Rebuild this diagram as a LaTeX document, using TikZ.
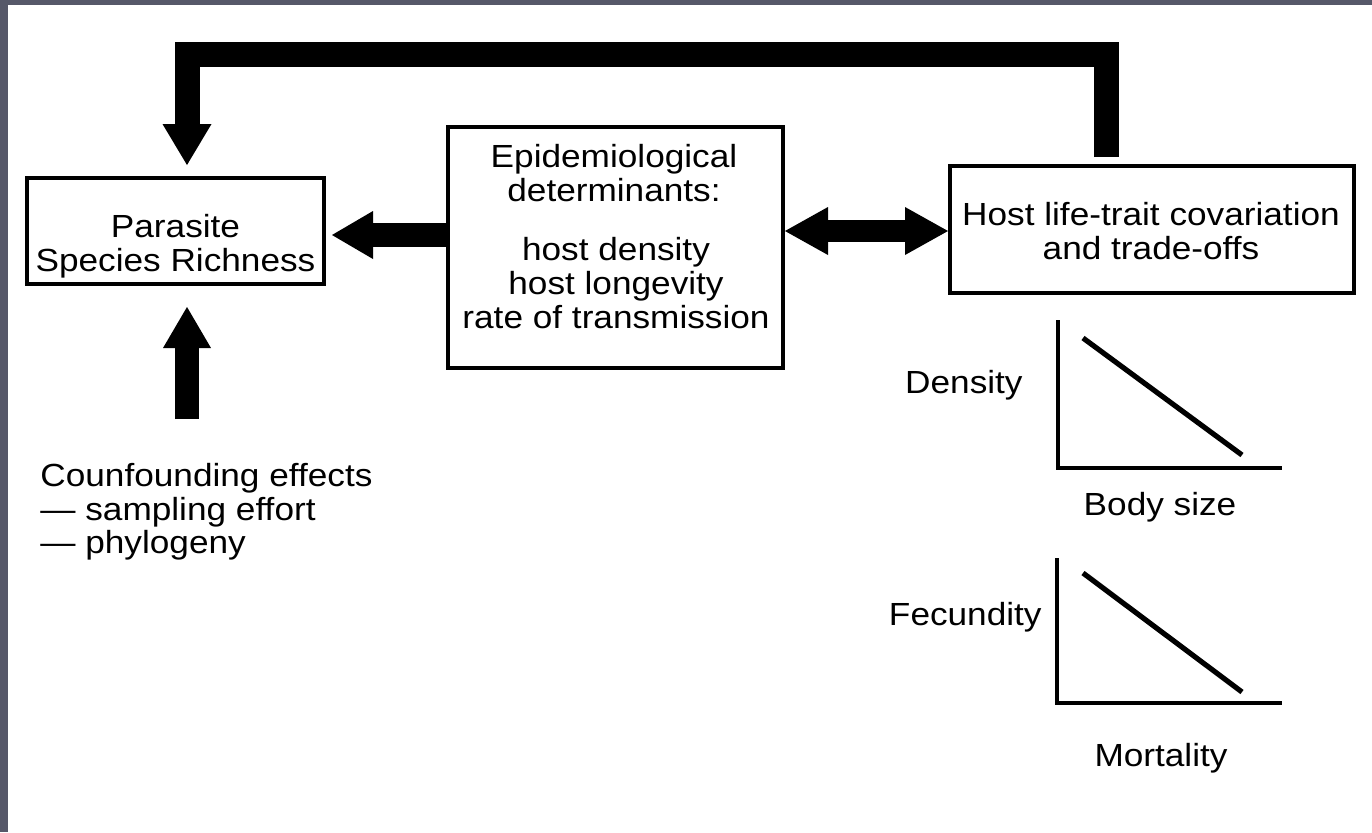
\documentclass[tikz,border=0pt]{standalone}
\usepackage{fontspec}
\setmainfont{Liberation Sans}[FakeStretch=1.1]
\usetikzlibrary{arrows.meta}
\definecolor{framec}{RGB}{86,88,105}
\begin{document}
\begin{tikzpicture}[x=0.5pt,y=-0.5pt,
  box/.style={draw,line width=2pt,inner sep=0pt},
  txt/.style={font=\fontsize{16}{16.8}\selectfont,align=center,inner sep=0pt},
  axisline/.style={line width=2pt,line join=miter},
  trend/.style={line width=2.6pt},
  bigarrow/.style={line width=12pt,-{Triangle[length=20.5pt,width=24pt,line width=0pt]}},
  dblarrow/.style={line width=11pt,{Triangle[length=21.5pt,width=24pt,line width=0pt]}-{Triangle[length=21.5pt,width=24pt,line width=0pt]}},
  fbarrow/.style={line width=12.5pt,line join=miter,-{Triangle[length=20.5pt,width=24.5pt,line width=0pt]}}]
\useasboundingbox (0,0) rectangle (1372,832);
\fill[white] (0,0) rectangle (1372,832);
\fill[framec] (0,0) rectangle (8,832);
\fill[framec] (0,0) rectangle (1372,5);

% boxes
\node[box,minimum width=148.5pt,minimum height=53pt] (par) at (175.5,231) {};
\node[box,minimum width=167.5pt,minimum height=120.5pt] (epi) at (615.5,247) {};
\node[box,minimum width=202pt,minimum height=63.5pt] (host) at (1152,229.5) {};

% texts
\node[txt] (partxt) at (175.5,246) {Parasite\\Species Richness};
\node[txt] (epitxt1) at (614,173) {Epidemiological\\determinants:};
\node[txt] (epitxt2) at (616,283) {host density\\host longevity\\rate of transmission};
\node[txt] (hosttxt) at (1151,231) {Host life-trait covariation\\and trade-offs};
\node[txt,align=left,anchor=west] (conf) at (40,512) {Counfounding effects\\— sampling effort\\— phylogeny};

% small graphs
\node[txt,anchor=east] (dens) at (1023,385) {Density};
\node[txt] (body) at (1160,507) {Body size};
\node[txt,anchor=east] (fec) at (1042,617) {Fecundity};
\node[txt] (mort) at (1161,758) {Mortality};
\draw[axisline] (1058,320) -- (1058,468) -- (1282,468);
\draw[trend] (1083,338) -- (1242,455);
\draw[axisline] (1057,558) -- (1057,703) -- (1282,703);
\draw[trend] (1083,573) -- (1242,692);

% arrows
\draw[bigarrow,shorten >=3pt] (epi.west |- 0,235) -- (par.east |- 0,235);
\draw[dblarrow] (epi.east |- 0,231) -- (host.west |- 0,231);
\coordinate (upstart) at (187,419);
\draw[bigarrow,shorten >=10.5pt] (upstart) -- (par.south -| upstart);
\draw[fbarrow,shorten <=3.5pt,shorten >=5.5pt] (host.north -| 1106.5,0) -- (1106.5,54.5) -- (187,54.5) -- (par.north -| 187,0);
\end{tikzpicture}
\end{document}
